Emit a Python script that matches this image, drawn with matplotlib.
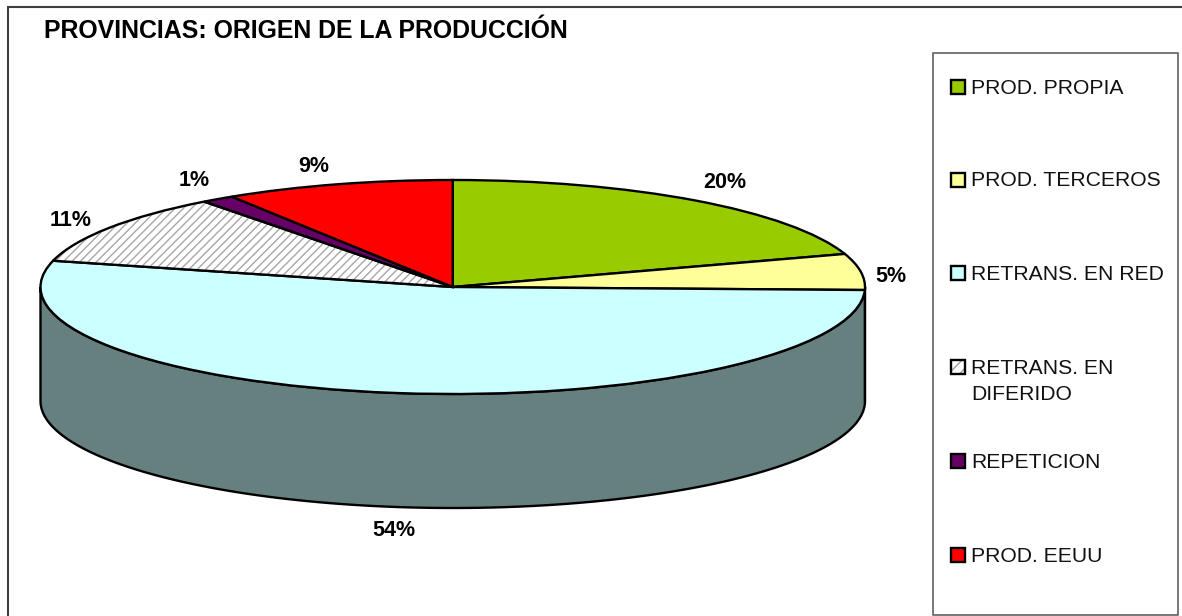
import numpy as np
import matplotlib
matplotlib.use('Agg')
import matplotlib.pyplot as plt
from matplotlib.patches import Polygon, Rectangle, Wedge
from matplotlib.colors import to_rgb

plt.rcParams['font.family'] = ['Liberation Sans', 'DejaVu Sans']
plt.rcParams['hatch.linewidth'] = 1.0

# data
categories = ['PROD. PROPIA', 'PROD. TERCEROS', 'RETRANS. EN RED',
              'RETRANS. EN\nDIFERIDO', 'REPETICION', 'PROD. EEUU']
values = [20.0, 5.45, 53.5, 10.75, 1.3, 9.0]
pct_labels = ['20%', '5%', '54%', '11%', '1%', '9%']
colors = ['#99CC00', '#FFFF99', '#CCFFFF', '#FFFFFF', '#660066', '#FF0000']
hatches = [None, None, None, '////', None, None]

# label centres and legend rows, in picture pixels
label_pos = [(725, 183), (891, 276), (394, 531), (71, 220), (194, 181), (314, 167)]
legend_rows = [88, 181, 274, 368, 462, 556]

W, H = 1182, 616
LW = 1.7
cx_left, cx_right, top, bottom = 40.5, 865, 180, 394
depth = 114 / ((bottom - top) / 2)  # side height in pie units

fig = plt.figure(figsize=(W / 100, H / 100), dpi=100, facecolor='white')

# pixel overlay for the frame, text and legend
bg = fig.add_axes([0, 0, 1, 1], zorder=0)
bg.set_xlim(0, W)
bg.set_ylim(H, 0)
bg.axis('off')

bg.plot([8, 8, W], [H, 6.5, 6.5], color='#404040', lw=1.5, solid_joinstyle='miter')
bg.add_patch(Rectangle((933, 53), 245, 562, fc='white', ec='#555555', lw=1.1))

bg.text(44, 31, 'PROVINCIAS: ORIGEN DE LA PRODUCCIÓN', fontsize=17.9, fontweight='bold',
        color='black', ha='left', va='center')

for (x, y), txt in zip(label_pos, pct_labels):
    bg.text(x, y, txt, fontsize=15.5, fontweight='bold', ha='center', va='center')

for name, col, hat, y in zip(categories, colors, hatches, legend_rows):
    if hat:
        bg.add_patch(Rectangle((951, y - 8), 14, 14, fc=col, ec='#A0A0A0', lw=0, hatch='///'))
        bg.add_patch(Rectangle((951, y - 8), 14, 14, fill=False, ec='black', lw=LW))
    else:
        bg.add_patch(Rectangle((951, y - 8), 14, 14, fc=col, ec='black', lw=LW))
    lines = name.split('\n')
    for i, line in enumerate(lines):
        bg.text(971, y + i * 27, line, fontsize=15.25, color='#111111', ha='left', va='center')

# pie: a plain pie squashed by the shape of its axes
ax = fig.add_axes([cx_left / W, (H - bottom) / H, (cx_right - cx_left) / W, (bottom - top) / H], zorder=1)
ax.patch.set_visible(False)
wedges, _ = ax.pie(values, colors=colors, startangle=90, counterclock=False, radius=1,
                   wedgeprops=dict(edgecolor='black', linewidth=LW, clip_on=False))
ax.set_aspect('auto')
ax.set_xlim(-1, 1)
ax.set_ylim(-1, 1)

# side of the cylinder: front half of each wedge, darker
for w, col in zip(wedges, colors):
    lo, hi = max(w.theta1, -180), min(w.theta2, 0)
    if hi <= lo:
        continue
    t = np.radians(np.linspace(lo, hi, 200))
    x, y = np.cos(t), np.sin(t)
    pts = np.r_[np.c_[x, y], np.c_[x[::-1], y[::-1] - depth]]
    side = np.array(to_rgb(col)) * [0.5, 0.5, 0.5]
    ax.add_patch(Polygon(pts, closed=True, fc=side, ec='black', lw=LW, zorder=0.5, clip_on=False))

# hatching of the pattern wedge, then its outline on top
for w, hat in zip(wedges, hatches):
    if hat:
        w.set_hatch(hat)
        w.set_edgecolor('#A6A6A6')
        w.set_linewidth(0)
        ax.add_patch(Wedge(w.center, w.r, w.theta1, w.theta2, fill=False, ec='black',
                           lw=LW, zorder=1.5, clip_on=False))

fig.savefig('out.png', dpi=100)
